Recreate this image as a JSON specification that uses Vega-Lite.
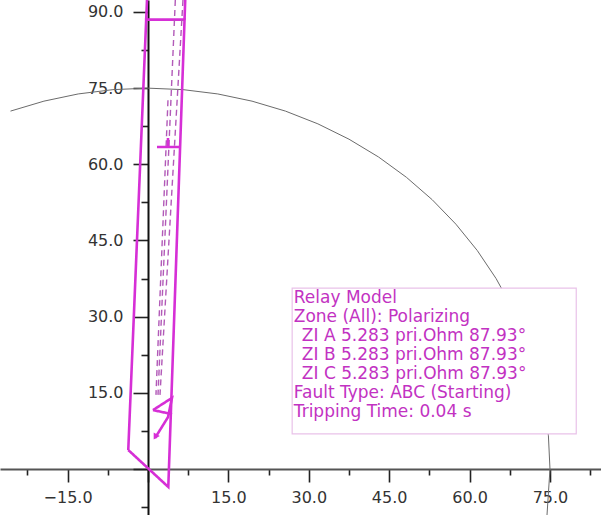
{
  "$schema": "https://vega.github.io/schema/vega-lite/v6.json",
  "width": 601,
  "height": 515,
  "padding": 0,
  "autosize": {"type": "none"},
  "background": "white",
  "config": {"view": {"stroke": null}},
  "datasets": {
    "circle": [
      {"a": -7, "x": 74.44, "y": -9.14},
      {"a": 0, "x": 75, "y": 0},
      {"a": 5, "x": 74.71, "y": 6.54},
      {"a": 10, "x": 73.86, "y": 13.02},
      {"a": 15, "x": 72.44, "y": 19.41},
      {"a": 20, "x": 70.48, "y": 25.65},
      {"a": 25, "x": 67.97, "y": 31.7},
      {"a": 30, "x": 64.95, "y": 37.5},
      {"a": 35, "x": 61.44, "y": 43.02},
      {"a": 40, "x": 57.45, "y": 48.21},
      {"a": 45, "x": 53.03, "y": 53.03},
      {"a": 50, "x": 48.21, "y": 57.45},
      {"a": 55, "x": 43.02, "y": 61.44},
      {"a": 60, "x": 37.5, "y": 64.95},
      {"a": 65, "x": 31.7, "y": 67.97},
      {"a": 70, "x": 25.65, "y": 70.48},
      {"a": 75, "x": 19.41, "y": 72.44},
      {"a": 80, "x": 13.02, "y": 73.86},
      {"a": 85, "x": 6.54, "y": 74.71},
      {"a": 90, "x": 0, "y": 75},
      {"a": 95, "x": -6.54, "y": 74.71},
      {"a": 100, "x": -13.02, "y": 73.86},
      {"a": 105, "x": -19.41, "y": 72.44},
      {"a": 110, "x": -25.65, "y": 70.48}
    ],
    "box": [{"x": 26.9, "x2": 79.9, "y": 6.9, "y2": 35.6}],
    "notes": [
      {"x": 27.2, "y": 33.7, "t": "Relay Model"},
      {"x": 27.2, "y": 29.9, "t": "Zone (All): Polarizing"},
      {"x": 28.7, "y": 26.2, "t": "ZI A 5.283 pri.Ohm 87.93°"},
      {"x": 28.7, "y": 22.4, "t": "ZI B 5.283 pri.Ohm 87.93°"},
      {"x": 28.7, "y": 18.7, "t": "ZI C 5.283 pri.Ohm 87.93°"},
      {"x": 27.2, "y": 14.9, "t": "Fault Type: ABC (Starting)"},
      {"x": 27.2, "y": 11.2, "t": "Tripping Time: 0.04 s"}
    ],
    "shapes": [
      {"id": "zone", "k": "solid", "o": 1, "x": -3.68, "y": 3.74},
      {"id": "zone", "k": "solid", "o": 2, "x": 3.79, "y": -3.54},
      {"id": "zone", "k": "solid", "o": 3, "x": 6.82, "y": 88.5},
      {"id": "zone", "k": "solid", "o": 4, "x": -0.335, "y": 88.5},
      {"id": "zone", "k": "solid", "o": 5, "x": -3.68, "y": 3.74},
      {"id": "extL", "k": "solid", "o": 1, "x": -0.335, "y": 88.5},
      {"id": "extL", "k": "solid", "o": 2, "x": 0.12, "y": 100},
      {"id": "extR", "k": "solid", "o": 1, "x": 6.82, "y": 88.5},
      {"id": "extR", "k": "solid", "o": 2, "x": 7.2, "y": 100},
      {"id": "d1", "k": "dashed", "o": 1, "x": 6.53, "y": 92.36},
      {"id": "d1", "k": "dashed", "o": 2, "x": 2.24, "y": 14.6},
      {"id": "d2", "k": "dashed", "o": 1, "x": 5.1, "y": 92.36},
      {"id": "d2", "k": "dashed", "o": 2, "x": 1.87, "y": 14.6},
      {"id": "d3", "k": "dashed", "o": 1, "x": 3.73, "y": 72.6},
      {"id": "d3", "k": "dashed", "o": 2, "x": 1.49, "y": 14.6},
      {"id": "m1", "k": "solid", "o": 1, "x": 1.68, "y": 63.4},
      {"id": "m1", "k": "solid", "o": 2, "x": 5.97, "y": 63.4},
      {"id": "m2", "k": "solid", "o": 1, "x": 3.73, "y": 63.4},
      {"id": "m2", "k": "solid", "o": 2, "x": 3.73, "y": 65.2},
      {"id": "p", "k": "solid", "o": 1, "x": 0.93, "y": 11.6},
      {"id": "p", "k": "solid", "o": 2, "x": 4.48, "y": 14.0},
      {"id": "p", "k": "solid", "o": 3, "x": 3.73, "y": 10.2},
      {"id": "p", "k": "solid", "o": 4, "x": 1.31, "y": 6.1},
      {"id": "q", "k": "solid", "o": 1, "x": 0.93, "y": 11.6},
      {"id": "q", "k": "solid", "o": 2, "x": 4.48, "y": 10.8}
    ],
    "head": [{"x": 1.45, "y": 6.5}]
  },
  "encoding": {
    "x": {
      "field": "x",
      "type": "quantitative",
      "scale": {"domain": [-27.61, 84.52], "nice": false, "zero": false},
      "axis": {
        "title": null,
        "offset": -46,
        "grid": false,
        "values": [-22.5, -15, -7.5, 0, 7.5, 15, 22.5, 30, 37.5, 45, 52.5, 60, 67.5, 75, 82.5],
        "domainColor": "#555555",
        "domainWidth": 2,
        "tickColor": "#222222",
        "tickWidth": 1.6,
        "tickSize": {"condition": {"test": "abs(datum.value) % 15 === 0", "value": 13}, "value": 6},
        "labelExpr": "abs(datum.value) % 15 === 0 && datum.value !== 0 ? format(datum.value, '.1f') : ''",
        "labelFont": "DejaVu Sans",
        "labelFontSize": 16,
        "labelColor": "#333333",
        "labelPadding": 7,
        "labelOverlap": false,
        "labelFlush": false
      }
    },
    "y": {
      "field": "y",
      "type": "quantitative",
      "scale": {"domain": [-9.06, 92.36], "nice": false, "zero": false},
      "axis": {
        "title": null,
        "offset": -148,
        "grid": false,
        "values": [-7.5, 0, 7.5, 15, 22.5, 30, 37.5, 45, 52.5, 60, 67.5, 75, 82.5, 90],
        "domainColor": "#111111",
        "domainWidth": 2,
        "tickColor": "#222222",
        "tickWidth": 1.6,
        "tickSize": {"condition": {"test": "abs(datum.value) % 15 === 0", "value": 15}, "value": 7},
        "labelExpr": "abs(datum.value) % 15 === 0 && datum.value !== 0 ? format(datum.value, '.1f') : ''",
        "labelFont": "DejaVu Sans",
        "labelFontSize": 16,
        "labelColor": "#333333",
        "labelPadding": 10,
        "labelOverlap": false,
        "labelFlush": false
      }
    }
  },
  "layer": [
    {
      "data": {"name": "circle"},
      "mark": {"type": "line", "color": "#6b6b6b", "strokeWidth": 1, "clip": true},
      "encoding": {"order": {"field": "a", "type": "quantitative"}}
    },
    {
      "data": {"name": "box"},
      "mark": {"type": "rect", "fill": "white", "stroke": "#e9c2e9", "strokeWidth": 1.2},
      "encoding": {"x2": {"field": "x2"}, "y2": {"field": "y2"}}
    },
    {
      "data": {"name": "notes"},
      "mark": {"type": "text", "align": "left", "baseline": "middle", "font": "DejaVu Sans", "fontSize": 17, "color": "#c232c2"},
      "encoding": {"text": {"field": "t"}}
    },
    {
      "data": {"name": "shapes"},
      "mark": {"type": "line", "clip": true},
      "encoding": {
        "detail": {"field": "id"},
        "order": {"field": "o", "type": "quantitative"},
        "color": {"field": "k", "type": "nominal", "scale": {"domain": ["solid", "dashed"], "range": ["#d62fd6", "#b25ab8"]}, "legend": null},
        "strokeDash": {"field": "k", "type": "nominal", "scale": {"domain": ["solid", "dashed"], "range": [[1, 0], [6, 4]]}, "legend": null},
        "strokeWidth": {"field": "k", "type": "nominal", "scale": {"domain": ["solid", "dashed"], "range": [2.6, 1.4]}, "legend": null}
      }
    },
    {
      "data": {"name": "head"},
      "mark": {"type": "point", "shape": "triangle", "angle": 210, "filled": true, "size": 50, "color": "#d62fd6", "opacity": 1}
    }
  ]
}
